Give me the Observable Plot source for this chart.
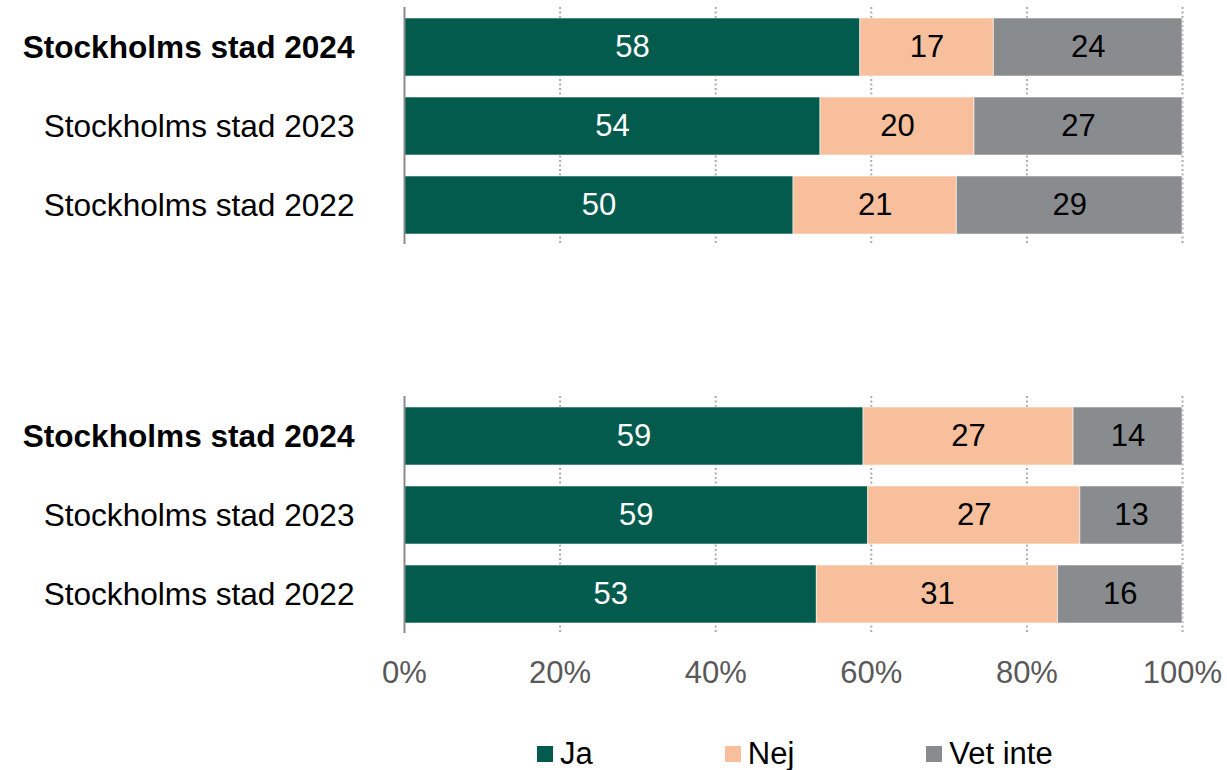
<!DOCTYPE html>
<html>
<head>
<meta charset="utf-8">
<script src="https://cdn.jsdelivr.net/npm/d3@7"></script>
<script src="https://cdn.jsdelivr.net/npm/@observablehq/plot@0.6"></script>
<style>
  body { margin: 0; background: #fff; font-family: "Liberation Sans", Arial, sans-serif; }
  #chart svg [aria-label="x-axis tick label"] text { fill: #595959; }
  #legend { display: flex; gap: 132px; padding-left: 537px; margin-top: 36px; font-size: 31px; line-height: 36px; color: #000; }
  #legend .item { display: flex; align-items: center; }
  #legend .sw { width: 16px; height: 16px; margin-right: 7px; display: inline-block; }
</style>
</head>
<body>
<div id="chart"></div>
<div id="legend"></div>
<script>
// Data
const groups = ["Fråga 1", "Fråga 2"];
const years = ["Stockholms stad 2024", "Stockholms stad 2023", "Stockholms stad 2022"];
const answers = ["Ja", "Nej", "Vet inte"];
const colors = ["#035b4e", "#f8bf9c", "#898c8f"];
const ja1 = [58, 54, 50];
const nej1 = [17, 20, 21];
const vet1 = [24, 27, 29];
const ja2 = [59, 59, 53];
const nej2 = [27, 27, 31];
const vet2 = [14, 13, 16];
const xTicks = [0, 0.2, 0.4, 0.6, 0.8, 1];
const gridTicks = [0.2, 0.4, 0.6, 0.8, 1];

const series = [[ja1, nej1, vet1], [ja2, nej2, vet2]];
const data = [];
groups.forEach((g, gi) => {
  years.forEach((y, yi) => {
    answers.forEach((a, ai) => {
      data.push({group: g, year: y, answer: a, value: series[gi][ai][yi]});
    });
  });
});

const font = 31;
const yFont = 31.6;
const stackOpts = (extra) => Plot.stackX({x: "value", y: "year", fy: "group", offset: "normalize", ...extra});

const chart = Plot.plot({
  width: 1227,
  height: 700,
  marginLeft: 404,
  marginRight: 45,
  marginTop: 6,
  marginBottom: 67,
  style: {fontFamily: "'Liberation Sans', Arial, sans-serif", background: "#fff"},
  x: {domain: [0, 1], axis: null},
  y: {domain: years, paddingInner: 0.27, paddingOuter: 0.135, axis: null},
  fy: {domain: groups, paddingInner: 0.392, paddingOuter: 0, axis: null, label: null},
  color: {domain: answers, range: colors},
  marks: [
    Plot.ruleX(gridTicks, {stroke: "#ababab", strokeWidth: 2, strokeDasharray: "2,2.5"}),
    Plot.barX(data, stackOpts({fill: "answer", stroke: "#fff", strokeOpacity: 0.55, strokeWidth: 1})),
    Plot.text(data, Plot.filter(d => d.answer === "Ja", stackOpts({text: d => String(d.value), fill: "#fff", fontSize: font}))),
    Plot.text(data, Plot.filter(d => d.answer !== "Ja", stackOpts({text: d => String(d.value), fill: "#000", fontSize: font}))),
    Plot.ruleX([0], {stroke: "#8a8a8a", strokeWidth: 2}),
    Plot.axisY({ticks: [years[0]], tickSize: 0, tickPadding: 50, fontSize: yFont, fontWeight: "bold", fill: "#000", label: null}),
    Plot.axisY({ticks: years.slice(1), tickSize: 0, tickPadding: 50, fontSize: yFont, fill: "#000", label: null}),
    Plot.axisX({ticks: xTicks, tickSize: 0, tickPadding: 27, fontSize: font, tickFormat: d => Math.round(d * 100) + "%", label: null, facetAnchor: "bottom"})
  ]
});
document.getElementById("chart").appendChild(chart);

const legend = document.getElementById("legend");
answers.forEach((a, i) => {
  const item = document.createElement("span");
  item.className = "item";
  const sw = document.createElement("span");
  sw.className = "sw";
  sw.style.background = colors[i];
  item.appendChild(sw);
  item.appendChild(document.createTextNode(a));
  legend.appendChild(item);
});
</script>
</body>
</html>
